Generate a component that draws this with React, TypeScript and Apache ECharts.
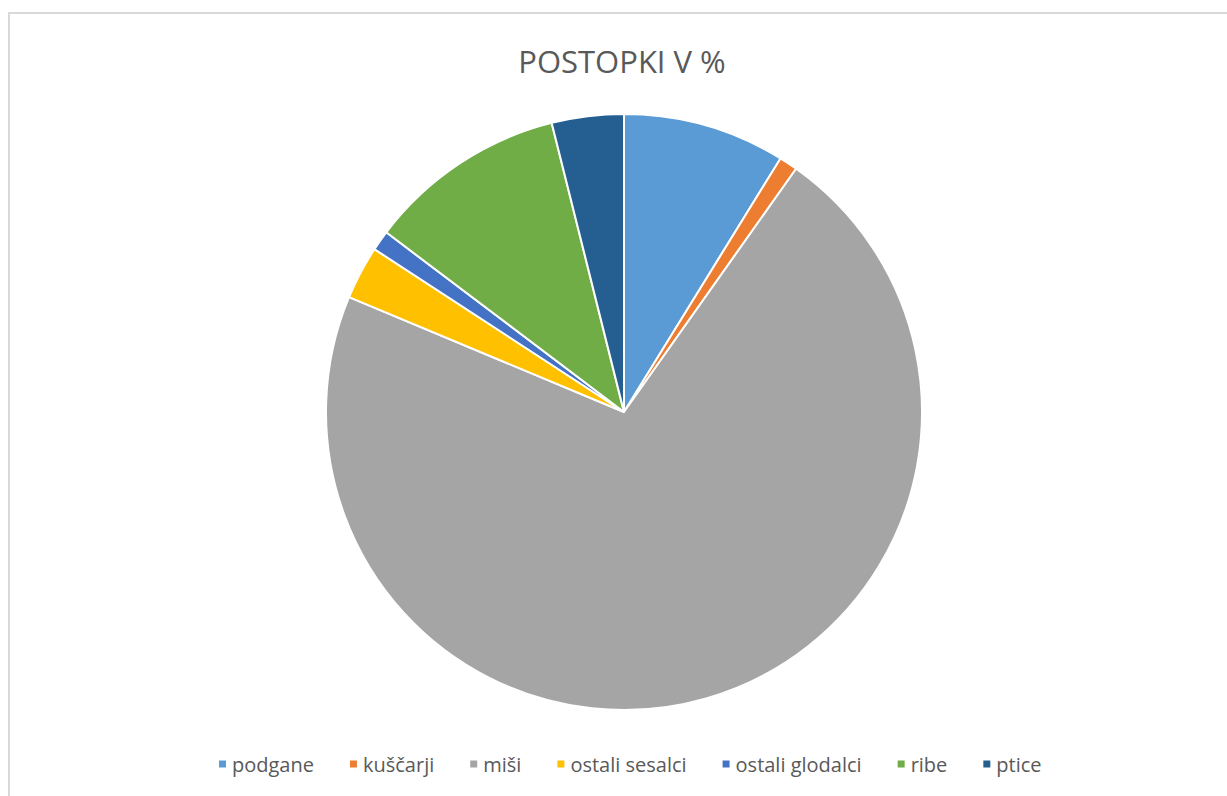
import React, { useEffect, useRef } from "react";
import * as echarts from "echarts";

const categories = ["podgane", "kuščarji", "miši", "ostali sesalci", "ostali glodalci", "ribe", "ptice"];
const values = [8.8, 1.0, 71.5, 2.9, 1.1, 10.8, 3.9];
const colors = ["#5B9BD5", "#ED7D31", "#A5A5A5", "#FFC000", "#4472C4", "#70AD47", "#255E91"];
const title = "POSTOPKI V %";

export default function App() {
  const ref = useRef<HTMLDivElement>(null);
  useEffect(() => {
    if (!ref.current) return;
    const chart = echarts.init(ref.current, null, { renderer: "svg" });
    chart.setOption({
      animation: false,
      backgroundColor: "#ffffff",
      color: colors,
      title: {
        text: title,
        left: 617,
        textAlign: "center",
        top: 40,
        textStyle: { fontFamily: "Open Sans", fontSize: 31, fontWeight: "normal", color: "#595959" },
      },
      graphic: [
        {
          type: "rect",
          shape: { x: 9, y: 13, width: 1400, height: 1000 },
          style: { fill: "none", stroke: "#d9d9d9", lineWidth: 2 },
          silent: true,
        },
      ],
      legend: {
        data: categories,
        bottom: 17,
        left: 212,
        icon: "rect",
        itemWidth: 9,
        itemHeight: 9,
        itemGap: 34,
        textStyle: { fontFamily: "Open Sans", fontSize: 20, color: "#595959" },
      },
      series: [
        {
          type: "pie",
          center: [624, 412],
          radius: 298,
          startAngle: 90,
          clockwise: true,
          label: { show: false },
          labelLine: { show: false },
          itemStyle: { borderColor: "#ffffff", borderWidth: 2 },
          data: categories.map((c, i) => ({ name: c, value: values[i] })),
        },
      ],
    });
    return () => chart.dispose();
  }, []);
  return <div ref={ref} style={{ position: "absolute", left: 0, top: 0, width: 1227, height: 796 }} />;
}
